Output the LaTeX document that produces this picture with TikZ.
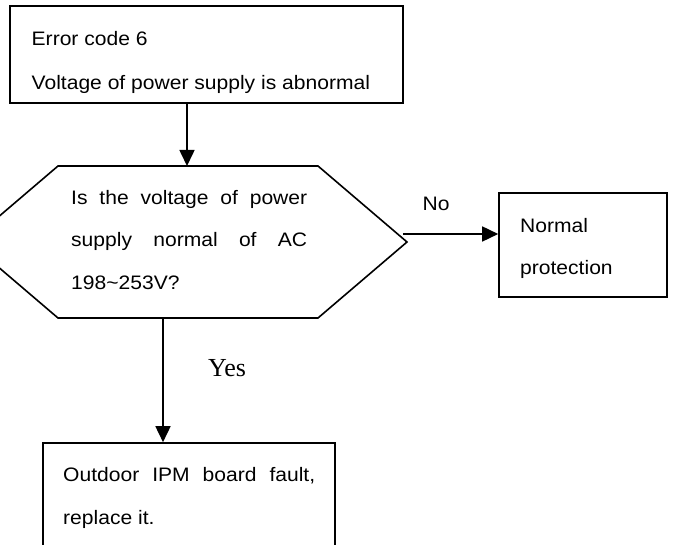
\documentclass[tikz,border=0pt]{standalone}
\usepackage{fontspec}
\setmainfont{Liberation Sans}[FakeStretch=1.08]
\newfontfamily\yesfont{Liberation Serif}
\usetikzlibrary{arrows.meta,positioning}
\tikzset{
    block/.style={
    rectangle,draw=black,line width=1.6pt,inner sep=0pt
    },
    words/.style={
    align=left,inner sep=0pt,anchor=north west
    },
    flow/.style={
    draw=black,line width=1.6pt,-{Triangle[length=16pt,width=15pt]}
    },
}

\begin{document}
\begin{tikzpicture}[x=1pt,y=-1pt]
   \useasboundingbox (0,0) rectangle (677,545);
   \clip (0,0) rectangle (677,545);

   \node[block,minimum width=393pt,minimum height=97pt] (err) at (206.5,54.5) {};
   \node[words,font=\fontsize{19.5}{44}\selectfont] (errtxt) at (31.5,31)
     {Error code 6\\Voltage of power supply is abnormal};

   % decision
   \draw[line width=1.6pt] (58,166) -- (318,166) -- (407,242) -- (318,318)
     -- (58,318) -- (-31,242) -- cycle;
   \coordinate (qtop) at (187,166);
   \coordinate (qright) at (403,234);
   \coordinate (qbot) at (163,318);
   \node[words,font=\fontsize{19.5}{42.5}\selectfont] (q) at (71,190)
     {\makebox[236pt][s]{Is the voltage of power}\\
      \makebox[236pt][s]{supply normal of AC}\\
      198\textasciitilde253V?};

   \node[block,minimum width=168pt,minimum height=104pt] (norm) at (583,245) {};
   \node[words,font=\fontsize{19.5}{42}\selectfont] (normtxt) at (520,218)
     {Normal\\protection};

   \node[block,minimum width=292pt,minimum height=157pt] (fault) at (189,521.5) {};
   \node[words,font=\fontsize{19.5}{43}\selectfont] (faulttxt) at (63,467)
     {\makebox[252pt][s]{Outdoor IPM board fault,}\\replace it.};

   \node[words,font=\fontsize{19.5}{24}\selectfont] (no) at (422.5,197) {No};
   \node[words,font=\yesfont\fontsize{26}{30}\selectfont] (yes) at (208,359.5) {Yes};

   \path (err.south -| qtop) edge[flow] (qtop)
         (qright) edge[flow] (qright -| norm.west)
         (qbot) edge[flow] (qbot |- fault.north);
\end{tikzpicture}
\end{document}
